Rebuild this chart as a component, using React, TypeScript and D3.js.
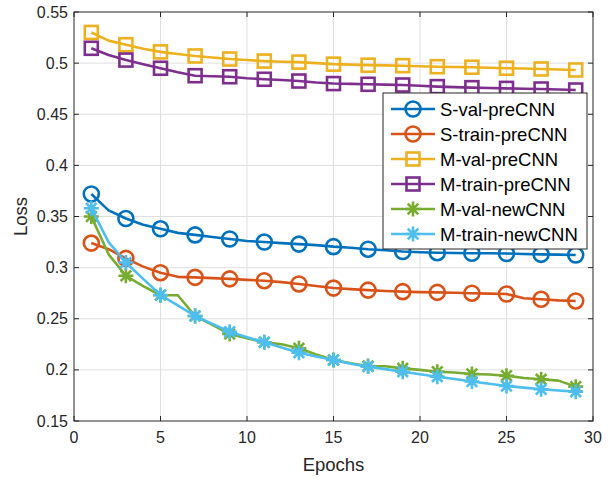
import React from "react";
import * as d3 from "d3";

const epochs = d3.range(1, 30);
const markerEpochs = [1, 3, 5, 7, 9, 11, 13, 15, 17, 19, 21, 23, 25, 27, 29];

const sValPre = [0.372, 0.356, 0.348, 0.342, 0.338, 0.334, 0.332, 0.330, 0.328, 0.326, 0.325, 0.324, 0.323, 0.322, 0.3205, 0.3195, 0.318, 0.317, 0.3157, 0.315, 0.3146, 0.3143, 0.314, 0.314, 0.3138, 0.3133, 0.313, 0.3127, 0.3123];
const sTrainPre = [0.324, 0.318, 0.309, 0.301, 0.295, 0.291, 0.2905, 0.2897, 0.289, 0.288, 0.2872, 0.2858, 0.284, 0.282, 0.280, 0.279, 0.278, 0.2772, 0.2765, 0.276, 0.2758, 0.2754, 0.275, 0.2746, 0.2742, 0.270, 0.269, 0.268, 0.2674];
const mValPre = [0.530, 0.522, 0.518, 0.514, 0.511, 0.509, 0.507, 0.5055, 0.504, 0.503, 0.502, 0.5014, 0.501, 0.500, 0.499, 0.4985, 0.498, 0.4978, 0.4975, 0.497, 0.4965, 0.4962, 0.496, 0.4955, 0.495, 0.4947, 0.4943, 0.4938, 0.4933];
const mTrainPre = [0.5145, 0.508, 0.503, 0.499, 0.495, 0.491, 0.4877, 0.4872, 0.4867, 0.4852, 0.4842, 0.4835, 0.4825, 0.481, 0.480, 0.4797, 0.4793, 0.479, 0.4786, 0.4778, 0.477, 0.4765, 0.476, 0.4757, 0.4753, 0.475, 0.4747, 0.4742, 0.4737];
const mValNew = [0.350, 0.313, 0.292, 0.282, 0.273, 0.273, 0.2527, 0.244, 0.2351, 0.231, 0.227, 0.225, 0.2211, 0.215, 0.2097, 0.2065, 0.2038, 0.2035, 0.2015, 0.200, 0.1982, 0.1975, 0.196, 0.1955, 0.1943, 0.192, 0.1908, 0.1895, 0.1836];
const mTrainNew = [0.358, 0.325, 0.305, 0.289, 0.2732, 0.263, 0.2527, 0.245, 0.2373, 0.232, 0.227, 0.222, 0.2168, 0.213, 0.2097, 0.206, 0.2032, 0.2007, 0.1982, 0.1957, 0.1933, 0.191, 0.1886, 0.1864, 0.1842, 0.1826, 0.181, 0.1798, 0.1787];

const seriesNames = ["S-val-preCNN", "S-train-preCNN", "M-val-preCNN", "M-train-preCNN", "M-val-newCNN", "M-train-newCNN"];
const seriesValues = [sValPre, sTrainPre, mValPre, mTrainPre, mValNew, mTrainNew];
const seriesColors = ["#0072BD", "#D95319", "#EDB120", "#7E2F8E", "#77AC30", "#4DBEEE"];
const seriesMarkers = ["circle", "circle", "square", "square", "star", "star"];

const xTicks = [0, 5, 10, 15, 20, 25, 30];
const yTicks = [0.15, 0.2, 0.25, 0.3, 0.35, 0.4, 0.45, 0.5, 0.55];

const W = 615, H = 478;
const left = 74, right = 593, top = 12, bottom = 421;
const FONT = "'Liberation Sans', Arial, Helvetica, sans-serif";
const AX = "#262626";

function Marker({ type, x, y, color }: { type: string; x: number; y: number; color: string }) {
  if (type === "circle") {
    return <circle cx={x} cy={y} r={7.5} fill="none" stroke={color} strokeWidth={2.6} />;
  }
  if (type === "square") {
    return <rect x={x - 6.5} y={y - 6.5} width={13} height={13} fill="none" stroke={color} strokeWidth={2.6} />;
  }
  const r = 7.5;
  const d = [0, 45, 90, 135]
    .map((a) => {
      const t = (a * Math.PI) / 180;
      const dx = r * Math.cos(t), dy = r * Math.sin(t);
      return `M${x - dx},${y - dy}L${x + dx},${y + dy}`;
    })
    .join("");
  return <path d={d} stroke={color} strokeWidth={2.6} fill="none" />;
}

export default function App() {
  const x = d3.scaleLinear().domain([0, 30]).range([left, right]);
  const y = d3.scaleLinear().domain([0.15, 0.55]).range([bottom, top]);
  const line = d3
    .line<number>()
    .x((_, i) => x(epochs[i]))
    .y((v) => y(v));

  const legX = 383, legY = 93, legW = 204, legH = 156;
  const rowH = 25;

  return (
    <svg width={W} height={H} style={{ position: "absolute", left: 0, top: 0, background: "#fff" }} fontFamily={FONT}>
      <rect x={0} y={0} width={W} height={H} fill="#fff" />
      {xTicks.slice(1, -1).map((t) => (
        <line key={"gx" + t} x1={x(t)} x2={x(t)} y1={top} y2={bottom} stroke="#dfdfdf" strokeWidth={1} />
      ))}
      {yTicks.slice(1, -1).map((t) => (
        <line key={"gy" + t} x1={left} x2={right} y1={y(t)} y2={y(t)} stroke="#dfdfdf" strokeWidth={1} />
      ))}
      {seriesValues.map((vals, si) => (
        <g key={seriesNames[si]}>
          <path d={line(vals) || ""} fill="none" stroke={seriesColors[si]} strokeWidth={2.6} strokeLinejoin="round" />
          {markerEpochs.map((e) => (
            <Marker key={e} type={seriesMarkers[si]} x={x(e)} y={y(vals[e - 1])} color={seriesColors[si]} />
          ))}
        </g>
      ))}
      <rect x={left} y={top} width={right - left} height={bottom - top} fill="none" stroke={AX} strokeWidth={1} />
      {xTicks.map((t) => (
        <g key={"tx" + t}>
          <line x1={x(t)} x2={x(t)} y1={bottom} y2={bottom - 5} stroke={AX} />
          <line x1={x(t)} x2={x(t)} y1={top} y2={top + 5} stroke={AX} />
          <text x={x(t)} y={bottom + 22} textAnchor="middle" fontSize={16} fill={AX}>
            {t}
          </text>
        </g>
      ))}
      {yTicks.map((t) => (
        <g key={"ty" + t}>
          <line x1={left} x2={left + 5} y1={y(t)} y2={y(t)} stroke={AX} />
          <line x1={right} x2={right - 5} y1={y(t)} y2={y(t)} stroke={AX} />
          <text x={left - 6} y={y(t) + 5.5} textAnchor="end" fontSize={16} fill={AX}>
            {d3.format(".2~f")(t)}
          </text>
        </g>
      ))}
      <text x={(left + right) / 2} y={471} textAnchor="middle" fontSize={18.5} fill={AX}>
        Epochs
      </text>
      <text transform={`translate(27,${(top + bottom) / 2}) rotate(-90)`} textAnchor="middle" fontSize={18.5} fill={AX}>
        Loss
      </text>
      <rect x={legX} y={legY} width={legW} height={legH} fill="#fff" stroke={AX} strokeWidth={1} />
      {seriesNames.map((n, i) => {
        const cy = legY + 16 + i * rowH;
        return (
          <g key={"lg" + n}>
            <line x1={legX + 8} x2={legX + 52} y1={cy} y2={cy} stroke={seriesColors[i]} strokeWidth={2.6} />
            <Marker type={seriesMarkers[i]} x={legX + 30} y={cy} color={seriesColors[i]} />
            <text x={legX + 57} y={cy + 6.5} fontSize={18.5} fill="#000">
              {n}
            </text>
          </g>
        );
      })}
    </svg>
  );
}
